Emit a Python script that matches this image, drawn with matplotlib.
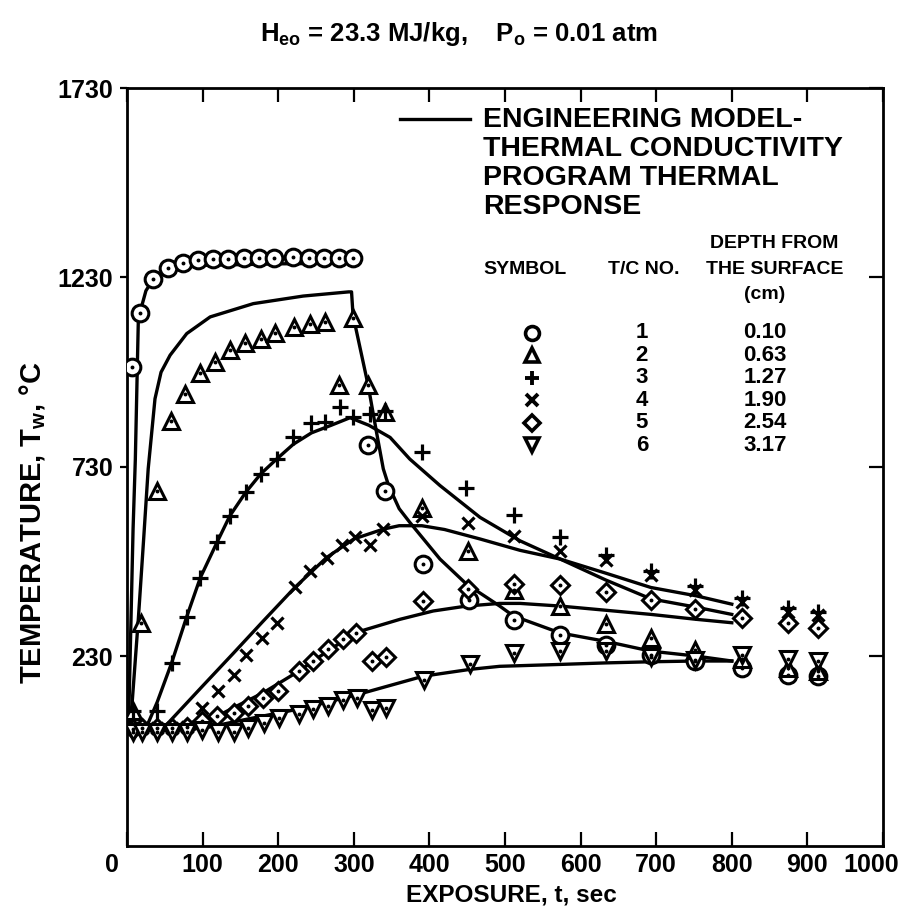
import matplotlib
matplotlib.use("Agg")
import matplotlib.pyplot as plt
from matplotlib.transforms import offset_copy

plt.rcParams["font.family"] = ["Liberation Sans", "DejaVu Sans"]
plt.rcParams["font.weight"] = "bold"
plt.rcParams["mathtext.fontset"] = "custom"
plt.rcParams["mathtext.rm"] = "Liberation Sans:bold"
plt.rcParams["mathtext.it"] = "Liberation Sans:bold"
plt.rcParams["mathtext.bf"] = "Liberation Sans:bold"

# measured thermocouple data (time s, temperature C)
tc1_t = [7, 17, 35, 54, 74, 94, 114, 134, 155, 175, 194, 220, 241, 261, 280, 299,
         319, 341, 392, 453, 512, 573, 633, 693, 751, 813, 875, 914]
tc1_T = [994, 1135, 1226, 1256, 1269, 1275, 1278, 1279, 1282, 1282, 1282, 1285, 1282, 1282, 1282, 1282,
         789, 666, 475, 379, 325, 286, 260, 233, 218, 200, 182, 178]

tc2_t = [8, 19, 40, 58, 77, 97, 116, 136, 156, 177, 196, 221, 242, 262, 280, 299,
         319, 341, 390, 451, 512, 573, 633, 693, 751, 813, 875, 914]
tc2_T = [85, 319, 667, 851, 923, 978, 1007, 1038, 1056, 1069, 1084, 1099, 1108, 1113, 945, 1122,
         945, 875, 623, 509, 405, 363, 316, 278, 248, 222, 200, 191]

tc3_t = [8, 39, 59, 79, 97, 119, 136, 157, 177, 198, 220, 244, 262, 282, 299, 321, 341,
         390, 449, 512, 573, 633, 693, 751, 813, 875, 914]
tc3_T = [85, 85, 213, 335, 438, 531, 601, 663, 712, 751, 809, 846, 848, 888, 861, 870, 879,
         769, 675, 603, 546, 497, 455, 415, 385, 357, 348]

tc4_t = [8, 20, 40, 60, 80, 99, 120, 141, 158, 179, 199, 222, 242, 264, 284, 302, 321, 339,
         390, 451, 512, 573, 633, 693, 751, 813, 875, 914]
tc4_T = [40, 40, 40, 42, 45, 94, 138, 182, 235, 279, 319, 412, 456, 491, 524, 546, 524, 566,
         600, 582, 548, 507, 485, 445, 405, 375, 348, 340]

tc5_t = [8, 20, 40, 60, 80, 99, 119, 141, 160, 180, 200, 227, 246, 266, 286, 303, 324, 343,
         392, 451, 512, 573, 633, 693, 751, 813, 875, 914]
tc5_T = [38, 40, 40, 42, 45, 59, 72, 81, 99, 121, 138, 191, 218, 249, 275, 293, 218, 229,
         376, 409, 420, 419, 399, 379, 356, 332, 319, 305]

tc6_t = [8, 20, 40, 60, 80, 99, 121, 141, 160, 181, 201, 227, 246, 266, 286, 304, 324, 343,
         393, 454, 512, 573, 633, 693, 751, 813, 875, 914]
tc6_T = [32, 32, 32, 32, 32, 37, 32, 32, 41, 54, 68, 77, 92, 100, 114, 121, 90, 94,
         169, 209, 240, 244, 245, 228, 220, 235, 222, 218]

# engineering model curves
m1_t = [0, 2, 8, 11, 15, 25, 35, 61, 100, 200, 300]
m1_T = [38, 45, 566, 751, 1122, 1195, 1227, 1254, 1262, 1266, 1268]

m2_t = [0, 5, 15, 22, 28, 37, 45, 57, 79, 110, 167, 233, 293, 297, 299, 319, 330, 339, 346,
        360, 374, 414, 449, 493, 511, 573, 633, 693, 753, 800]
m2_T = [38, 60, 330, 540, 725, 910, 980, 1025, 1082, 1126, 1161, 1181, 1192, 1192, 1130, 945, 822, 725, 681,
        620, 584, 487, 421, 363, 337, 292, 270, 244, 231, 218]

m3_t = [0, 20, 26, 40, 59, 79, 97, 119, 136, 157, 177, 198, 220, 244, 270, 295, 320, 348,
        374, 414, 467, 520, 573, 633, 693, 753, 800]
m3_T = [38, 40, 45, 110, 213, 335, 438, 531, 601, 663, 712, 751, 790, 820, 840, 860, 840, 808,
        751, 681, 597, 535, 487, 432, 382, 360, 341]

m4_t = [0, 40, 50, 100, 140, 180, 222, 264, 300, 339, 360, 390, 420, 467, 520, 573, 633, 693, 753, 800]
m4_T = [38, 40, 45, 152, 237, 323, 412, 491, 540, 566, 575, 575, 565, 540, 510, 487, 450, 412, 390, 368]

m5_t = [0, 80, 103, 141, 180, 227, 266, 304, 361, 405, 449, 493, 520, 573, 633, 693, 753, 800]
m5_T = [38, 40, 55, 95, 134, 191, 245, 294, 328, 350, 363, 370, 370, 363, 352, 341, 328, 319]

m6_t = [0, 100, 114, 160, 229, 304, 392, 454, 493, 573, 633, 693, 753, 800]
m6_T = [38, 40, 46, 65, 92, 129, 178, 196, 204, 209, 213, 216, 218, 218]

tc_numbers = ["1", "2", "3", "4", "5", "6"]
depths = ["0.10", "0.63", "1.27", "1.90", "2.54", "3.17"]
markers = ["o", "^", "+", "x", "D", "v"]
marker_sizes = [12, 12, 12, 9, 9, 12]

fig = plt.figure(figsize=(9.06, 9.11), dpi=100)
ax = fig.add_axes([0.1402, 0.0714, 0.8344, 0.832])

lw = 2.4
for mt, mT in [(m1_t, m1_T), (m2_t, m2_T), (m3_t, m3_T), (m4_t, m4_T), (m5_t, m5_T), (m6_t, m6_T)]:
    ax.plot(mt, mT, color="black", lw=lw, solid_joinstyle="round", zorder=2)

series = [(tc1_t, tc1_T), (tc2_t, tc2_T), (tc3_t, tc3_T), (tc4_t, tc4_T), (tc5_t, tc5_T), (tc6_t, tc6_T)]
for (t, T), mk, ms in zip(series, markers, marker_sizes):
    if mk in ("+", "x"):
        ax.plot(t, T, ls="none", marker=mk, ms=ms, mew=2.3, color="black", zorder=3)
    else:
        ax.plot(t, T, ls="none", marker=mk, ms=ms, mew=2.2, mfc="white", mec="black", zorder=3)
        ax.plot(t, T, ls="none", marker="o", ms=1.8, color="black", zorder=4)

ax.set_xlim(0, 1000)
ax.set_ylim(-270, 1730)
ax.set_xticks(range(0, 1001, 100))
ax.set_xticklabels([str(v) for v in range(0, 1001, 100)])
ax.set_yticks([230, 730, 1230, 1730])
ax.set_yticklabels(["230", "730", "1230", "1730"])
ax.tick_params(axis="x", direction="in", length=10, width=1.6, top=True, labelsize=18, pad=5)
ax.tick_params(axis="y", direction="out", length=5, width=1.6, labelsize=18, pad=5)
ax.tick_params(axis="y", which="major", right=True)
for s in ax.spines.values():
    s.set_linewidth(2.0)
for tl in ax.yaxis.get_ticklines()[1::2]:
    tl.set_marker(matplotlib.lines.TICKLEFT)
    tl.set_markersize(10)

xl = ax.get_xticklabels()
xl[0].set_transform(offset_copy(xl[0].get_transform(), fig=fig, x=-15, y=0, units="dots"))
xl[-1].set_transform(offset_copy(xl[-1].get_transform(), fig=fig, x=-12, y=0, units="dots"))

ax.set_xlabel("EXPOSURE, t, sec", fontsize=17.5, fontweight="bold")
ax.xaxis.set_label_coords(0.509, -0.050)
ax.set_ylabel(r"TEMPERATURE, T$_{\mathrm{w}}$, °C", fontsize=21, fontweight="bold")
ax.yaxis.set_label_coords(-0.104, 0.427)

fig.text(0.507, 0.963, r"H$_{\mathrm{eo}}$ = 23.3 MJ/kg,    P$_{\mathrm{o}}$ = 0.01 atm",
         ha="center", va="center", fontsize=18.5, fontweight="bold")

# legend block
ax.plot([0.361, 0.454], [0.959, 0.959], color="black", lw=lw, transform=ax.transAxes)
model_lines = ["ENGINEERING MODEL-", "THERMAL CONDUCTIVITY", "PROGRAM THERMAL", "RESPONSE"]
for i, txt in enumerate(model_lines):
    ax.text(0.471, 0.958 - i * 0.0383, txt, transform=ax.transAxes, ha="left", va="center",
            fontsize=20.5, fontweight="bold")

ax.text(0.856, 0.7955, "DEPTH FROM", transform=ax.transAxes, ha="center", va="center", fontsize=14)
ax.text(0.526, 0.760, "SYMBOL", transform=ax.transAxes, ha="center", va="center", fontsize=14)
ax.text(0.684, 0.760, "T/C NO.", transform=ax.transAxes, ha="center", va="center", fontsize=14)
ax.text(0.857, 0.760, "THE SURFACE", transform=ax.transAxes, ha="center", va="center", fontsize=14)
ax.text(0.843, 0.727, "(cm)", transform=ax.transAxes, ha="center", va="center", fontsize=14)

for i in range(6):
    yy = 0.6768 - i * 0.0296
    mk = markers[i]
    if mk in ("+", "x"):
        ax.plot([0.5357], [yy], marker=mk, ms=10 if mk == "+" else 8, mew=2.8, color="black",
                transform=ax.transAxes)
    else:
        ax.plot([0.5357], [yy], marker=mk, ms=10 if mk != "D" else 8, mew=2.6, mfc="white", mec="black",
                transform=ax.transAxes)
    ax.text(0.681, yy, tc_numbers[i], transform=ax.transAxes, ha="center", va="center", fontsize=16)
    ax.text(0.873, yy, depths[i], transform=ax.transAxes, ha="right", va="center", fontsize=16)

fig.savefig("out.png", dpi=100)
